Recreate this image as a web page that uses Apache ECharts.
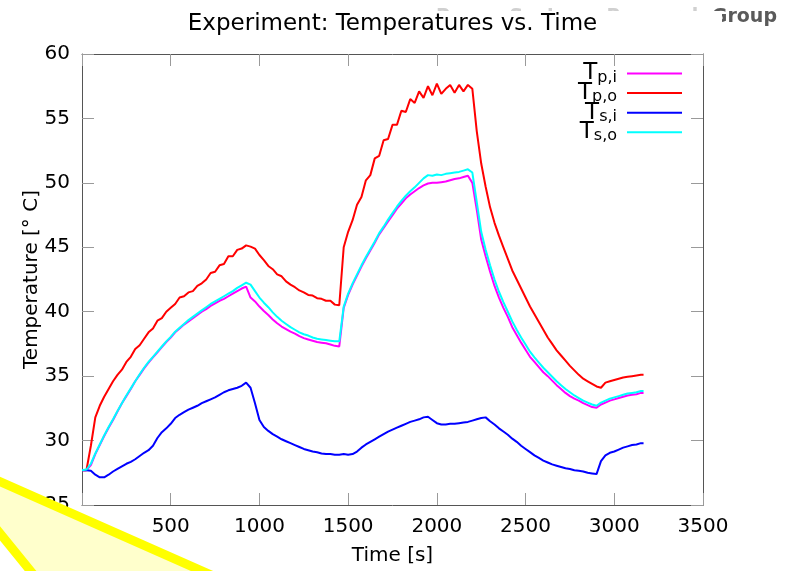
<!DOCTYPE html>
<html>
<head>
<meta charset="utf-8">
<script src="https://cdn.jsdelivr.net/npm/echarts@6/dist/echarts.min.js"></script>
<style>
  html, body { margin: 0; padding: 0; background: #fff; }
  #chart { width: 785px; height: 571px; }
</style>
</head>
<body>
<div id="chart"></div>
<script>
// Sample times [s], shared by all four temperature traces
const seconds = [
  0, 25, 50, 75, 100, 125, 150, 175, 200, 225, 250, 275, 300, 325, 350, 375, 400, 425, 450, 475,
  500, 525, 550, 575, 600, 625, 650, 675, 700, 725, 750, 775, 800, 825, 850, 875, 900, 925, 950, 975,
  1000, 1025, 1050, 1075, 1100, 1125, 1150, 1175, 1200, 1225, 1250, 1275, 1300, 1325, 1350, 1375, 1400, 1425, 1450, 1475,
  1500, 1525, 1550, 1575, 1600, 1625, 1650, 1675, 1700, 1725, 1750, 1775, 1800, 1825, 1850, 1875, 1900, 1925, 1950, 1975,
  2000, 2025, 2050, 2075, 2100, 2125, 2150, 2175, 2200, 2225, 2250, 2275, 2300, 2325, 2350, 2375, 2400, 2425, 2450, 2475,
  2500, 2525, 2550, 2575, 2600, 2625, 2650, 2675, 2700, 2725, 2750, 2775, 2800, 2825, 2850, 2875, 2900, 2925, 2950, 2975,
  3000, 3025, 3050, 3075, 3100, 3125, 3150, 3165
];

// Primary inlet temperature T_p,i [°C]
const tempPrimaryIn = [
  27.7, 27.7, 28.1, 28.95, 29.65, 30.35, 31.0, 31.6, 32.25, 32.9, 33.45, 34.0, 34.6, 35.1, 35.6, 36.05, 36.45, 36.85, 37.25, 37.65,
  38.0, 38.4, 38.7, 39.0, 39.25, 39.5, 39.75, 40.0, 40.2, 40.45, 40.65, 40.85, 41.0, 41.2, 41.4, 41.6, 41.8, 41.95, 41.1, 40.8,
  40.4, 40.05, 39.75, 39.4, 39.1, 38.85, 38.65, 38.45, 38.3, 38.1, 37.95, 37.85, 37.75, 37.65, 37.6, 37.55, 37.45, 37.35, 37.3, 40.3,
  41.3, 42.1, 42.8, 43.5, 44.15, 44.75, 45.35, 46.0, 46.5, 47.0, 47.5, 48.0, 48.4, 48.8, 49.1, 49.35, 49.6, 49.8, 49.95, 50.0,
  50.0, 50.05, 50.1, 50.2, 50.3, 50.35, 50.45, 50.55, 50.0, 47.9, 45.6, 44.3, 43.1, 42.0, 41.1, 40.3, 39.6, 38.8, 38.2, 37.6,
  37.05, 36.5, 36.1, 35.7, 35.3, 35.0, 34.65, 34.3, 34.0, 33.7, 33.45, 33.25, 33.1, 32.9, 32.75, 32.6, 32.55, 32.8, 32.95, 33.1,
  33.2, 33.3, 33.4, 33.5, 33.55, 33.6, 33.7, 33.7
];

// Primary outlet temperature T_p,o [°C]
const tempPrimaryOut = [
  27.7, 27.7, 29.6, 31.8, 32.7, 33.4, 34.0, 34.6, 35.1, 35.5, 36.1, 36.5, 37.1, 37.4, 37.9, 38.4, 38.7, 39.3, 39.5, 40.0,
  40.3, 40.6, 41.1, 41.2, 41.5, 41.6, 42.0, 42.2, 42.5, 43.0, 43.1, 43.6, 43.7, 44.3, 44.3, 44.8, 44.9, 45.15, 45.05, 44.9,
  44.4, 44.0, 43.55, 43.3, 42.9, 42.75, 42.35, 42.1, 41.9, 41.65, 41.5, 41.3, 41.25, 41.05, 41.0, 40.85, 40.85, 40.55, 40.5, 45.0,
  46.2, 47.1, 48.3, 48.9, 50.2, 50.6, 51.9, 52.1, 53.3, 53.4, 54.5, 54.5, 55.6, 55.5, 56.5, 56.2, 57.1, 56.6, 57.5, 56.8,
  57.7, 56.9, 57.3, 57.6, 57.0, 57.6, 57.1, 57.6, 57.3, 54.0, 51.5, 49.7, 48.1, 46.9, 45.9, 45.0, 44.1, 43.2, 42.5, 41.8,
  41.1, 40.4, 39.8, 39.2, 38.6, 38.0, 37.5, 37.0, 36.6, 36.2, 35.8, 35.45, 35.1, 34.8, 34.6, 34.4, 34.2, 34.1, 34.5, 34.6,
  34.7, 34.8, 34.9, 34.95, 35.0, 35.05, 35.1, 35.1
];

// Secondary inlet temperature T_s,i [°C]
const tempSecondaryIn = [
  27.7, 27.7, 27.65, 27.35, 27.15, 27.15, 27.35, 27.6, 27.8, 28.0, 28.2, 28.35, 28.55, 28.8, 29.05, 29.25, 29.6, 30.2, 30.65, 30.95,
  31.3, 31.75, 32.0, 32.2, 32.4, 32.55, 32.7, 32.9, 33.05, 33.2, 33.35, 33.55, 33.75, 33.9, 34.0, 34.1, 34.25, 34.5, 34.1, 32.9,
  31.6, 31.05, 30.75, 30.5, 30.3, 30.1, 29.95, 29.8, 29.65, 29.5, 29.35, 29.25, 29.15, 29.1, 29.0, 28.95, 28.95, 28.9, 28.9, 28.95,
  28.9, 28.95, 29.15, 29.45, 29.7, 29.9, 30.1, 30.3, 30.5, 30.7, 30.85, 31.0, 31.15, 31.3, 31.45, 31.55, 31.65, 31.8, 31.85, 31.6,
  31.35, 31.25, 31.25, 31.3, 31.3, 31.35, 31.4, 31.45, 31.55, 31.65, 31.75, 31.8, 31.5, 31.25, 30.95, 30.7, 30.45, 30.15, 29.9, 29.6,
  29.35, 29.1, 28.85, 28.65, 28.45, 28.3, 28.15, 28.05, 27.95, 27.85, 27.8, 27.7, 27.65, 27.6, 27.5, 27.45, 27.4, 28.4, 28.85, 29.05,
  29.15, 29.3, 29.45, 29.55, 29.65, 29.7, 29.8, 29.8
];

// Secondary outlet temperature T_s,o [°C]
const tempSecondaryOut = [
  27.7, 27.75, 28.2, 29.0, 29.7, 30.4, 31.05, 31.65, 32.3, 32.9, 33.5, 34.05, 34.6, 35.15, 35.65, 36.1, 36.5, 36.9, 37.3, 37.7,
  38.05, 38.45, 38.75, 39.05, 39.35, 39.6, 39.85, 40.1, 40.35, 40.6, 40.8, 41.0, 41.2, 41.4, 41.6, 41.85, 42.05, 42.25, 42.1, 41.6,
  41.1, 40.7, 40.35, 39.95, 39.6, 39.3, 39.05, 38.8, 38.6, 38.4, 38.25, 38.15, 38.0, 37.9, 37.85, 37.8, 37.75, 37.7, 37.7, 40.4,
  41.4, 42.2, 42.9, 43.6, 44.25, 44.85, 45.45, 46.1, 46.6, 47.15, 47.65, 48.15, 48.6, 49.0, 49.35, 49.65, 50.0, 50.35, 50.6, 50.55,
  50.65, 50.6, 50.7, 50.75, 50.8, 50.85, 50.95, 51.05, 50.8, 48.5, 46.2, 44.8, 43.6, 42.5, 41.55, 40.75, 40.0, 39.25, 38.6, 38.0,
  37.45, 36.9, 36.45, 36.05, 35.65, 35.3, 34.95, 34.6, 34.3, 34.0, 33.75, 33.5, 33.3, 33.1, 32.95, 32.8, 32.7, 32.95, 33.1, 33.25,
  33.35, 33.45, 33.55, 33.65, 33.7, 33.75, 33.85, 33.85
];

const seriesNames = ['Tp,i', 'Tp,o', 'Ts,i', 'Ts,o'];
const seriesValues = [tempPrimaryIn, tempPrimaryOut, tempSecondaryIn, tempSecondaryOut];
const seriesColors = ['#ff00ff', '#ff0000', '#0000ff', '#00ffff'];

const timeTicks = { min: 0, max: 3500, step: 500 };
const tempTicks = { min: 25, max: 60, step: 5 };

const FONT = 'DejaVu Sans';
const chart = echarts.init(document.getElementById('chart'), null, { renderer: 'canvas' });

function pairs(values) {
  return seconds.map((t, i) => [t, values[i]]);
}

// plain integer tick text, no thousands separator
function plain(v) {
  return String(v);
}

// gnuplot-style frame: inward ticks on every side, no grid lines
function frameAxis(extra) {
  return Object.assign({
    type: 'value',
    splitLine: { show: false },
    axisLine: { show: true, onZero: false, lineStyle: { color: '#555', width: 1 } },
    axisTick: { show: true, inside: true, length: 12, lineStyle: { color: '#9a9a9a', width: 1 } },
    axisLabel: { show: false }
  }, extra);
}

const option = {
  animation: false,
  backgroundColor: '#fff',
  title: {
    text: 'Experiment: Temperatures vs. Time',
    left: 'center',
    top: 8,
    textStyle: { fontFamily: FONT, fontSize: 23, fontWeight: 'normal', color: '#000' }
  },
  legend: {
    orient: 'vertical',
    right: 103,
    top: 62,
    padding: 0,
    itemGap: -3.9,
    align: 'right',
    icon: 'rect',
    itemWidth: 55,
    itemHeight: 2,
    data: seriesNames,
    formatter: function (name) {
      return '{t|' + name.charAt(0) + '}{s|' + name.slice(1) + '}';
    },
    textStyle: {
      fontFamily: FONT,
      color: '#000',
      padding: [0, 5, 0, 0],
      rich: {
        t: { fontFamily: FONT, fontSize: 23, lineHeight: 20, color: '#000' },
        s: { fontFamily: FONT, fontSize: 16, lineHeight: 10, height: 12, verticalAlign: 'bottom', color: '#000' }
      }
    }
  },
  grid: { left: 82, top: 54, width: 621, height: 452, containLabel: false },
  xAxis: [
    frameAxis({
      position: 'bottom',
      min: timeTicks.min, max: timeTicks.max, interval: timeTicks.step,
      name: 'Time [s]',
      nameLocation: 'middle',
      nameGap: 41,
      nameMoveOverlap: false,
      nameTextStyle: { fontFamily: FONT, fontSize: 20, color: '#000' },
      axisLabel: { show: true, fontFamily: FONT, fontSize: 20, color: '#000', margin: 12, formatter: plain }
    }),
    frameAxis({
      position: 'top',
      min: timeTicks.min, max: timeTicks.max, interval: timeTicks.step
    })
  ],
  yAxis: [
    frameAxis({
      position: 'left',
      min: tempTicks.min, max: tempTicks.max, interval: tempTicks.step,
      name: 'Temperature [° C]',
      nameLocation: 'middle',
      nameGap: 40,
      nameMoveOverlap: false,
      nameTextStyle: { fontFamily: FONT, fontSize: 20, color: '#000' },
      axisLabel: { show: true, fontFamily: FONT, fontSize: 20, color: '#000', margin: 12, formatter: plain }
    }),
    frameAxis({
      position: 'right',
      min: tempTicks.min, max: tempTicks.max, interval: tempTicks.step
    })
  ],
  series: seriesNames.map((name, i) => ({
    name: name,
    type: 'line',
    xAxisIndex: 0,
    yAxisIndex: 0,
    data: pairs(seriesValues[i]),
    showSymbol: false,
    symbol: 'none',
    lineStyle: { color: seriesColors[i], width: 2 },
    itemStyle: { color: seriesColors[i] }
  })),
  graphic: [
    // slide header behind the chart image
    {
      type: 'text',
      z: -20,
      style: {
        x: 777, y: 27,
        text: '{a|Power Systems Research }{b|Group}',
        align: 'right',
        verticalAlign: 'bottom',
        rich: {
          a: { fontFamily: FONT, fontSize: 19, fontWeight: 'bold', fill: '#d0d0d0' },
          b: { fontFamily: FONT, fontSize: 19, fontWeight: 'bold', fill: '#5a5a5a' }
        }
      }
    },
    // white chart panel covering the header
    {
      type: 'rect',
      z: -10,
      shape: { x: 0, y: 11, width: 722, height: 560 },
      style: { fill: '#fff' }
    },
    // highlighter arrow in the lower-left corner
    {
      type: 'polygon',
      z: 100,
      shape: {
        points: [[-20, 472.8], [240, 587.8], [46, 590], [-20, 508.7]]
      },
      style: { fill: '#ffffcc', stroke: '#ffff00', lineWidth: 9, lineJoin: 'miter' }
    }
  ]
};

chart.setOption(option);
</script>
</body>
</html>
